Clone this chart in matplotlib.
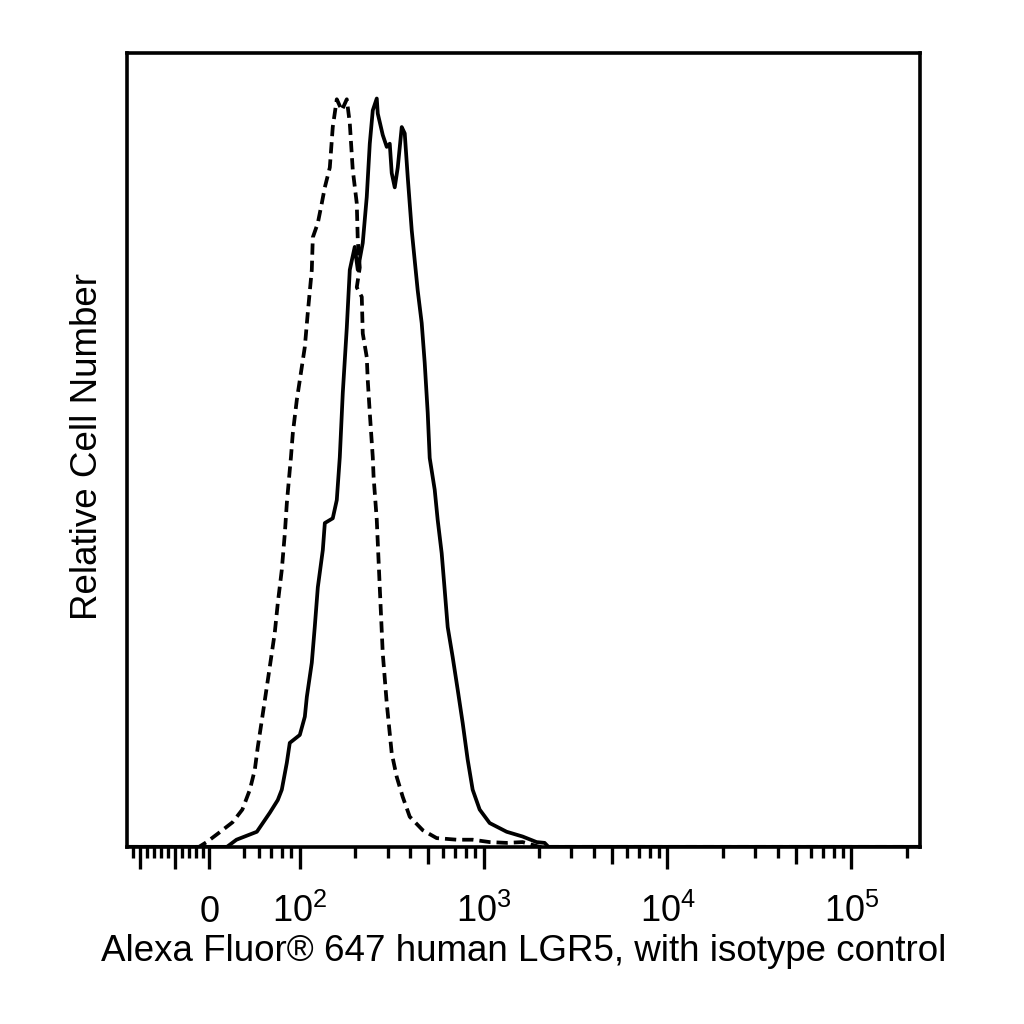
import numpy as np
import matplotlib
matplotlib.use("Agg")
import matplotlib.pyplot as plt

plt.rcParams['font.family'] = ['Liberation Sans', 'DejaVu Sans']
plt.rcParams['mathtext.default'] = 'regular'

# isotype control (dashed): intensity, relative count
iso_x = [-118, -15, -4, 14, 33, 47, 53.5, 56.9, 59.1, 62.2, 66.2, 70.4, 73.1, 75.9, 79.8,
         82.9, 85.0, 88.2, 89.5, 91.6, 96.3, 100, 106.5, 110.5, 116.2, 117.7, 125.3, 131.7,
         136.8, 145.6, 151.1, 158.9, 169.2, 180.1, 187.0, 194.1, 204.1, 206.7, 211.9, 204.1,
         217.3, 220.0, 231.3, 234.2, 240.2, 249.4, 252, 262.2, 272.2, 282.6, 297.1, 316.2,
         336.8, 362.9, 396.2, 466.2, 555.3, 713.5, 871.4, 1078, 1334, 1629, 2015, 2.35e5]
iso_y = [0, 0, 0.6, 1.8, 3.1, 4.7, 7.2, 9.7, 12.6, 16.0, 20.2, 24.4, 27.0, 30.7, 34.9,
         39.5, 43.3, 47.5, 49.1, 52.1, 56.3, 58.8, 63.0, 67.3, 72.7, 76.8, 78.6, 81.1,
         83.1, 85.6, 90.7, 94.2, 92.8, 94.2, 91.2, 85.3, 81.1, 76.4, 73.0, 70.5,
         69.3, 64.7, 61.7, 58.8, 54.7, 49.1, 46.6, 41.2, 32.7, 24.4, 18.1, 11.8,
         8.8, 6.3, 3.8, 2.1, 1.1, 0.9, 0.9, 0.6, 0.5, 0.6, 0, 0]

# LGR5 stained (solid)
lgr5_x = [-118, 25, 38.6, 58.4, 68.7, 75.9, 79.8, 85.0, 88.2, 100, 106.5, 109.2, 116.2,
          120.6, 125.3, 133.4, 136.8, 151.1, 158.9, 165.0, 171.3, 180.1, 187.0, 199.0,
          206.7, 220.0, 231.3, 240.2, 249.4, 262.2, 265.5, 282.6, 297.1, 308.5, 316.2,
          328.4, 341.0, 358.5, 372.2, 386.4, 406.2, 421.7, 437.9, 460.3, 477.9, 496.3,
          508.8, 541.7, 562.3, 591.2, 613.8, 637.4, 678.6, 722.5, 769.1, 818.5, 871.4,
          951.2, 1078, 1334, 1629, 1941, 2146, 2250, 2.35e5]
lgr5_y = [0, 0, 0.9, 1.9, 4.3, 5.9, 7.2, 10.6, 13.1, 14.1, 16.4, 18.9, 23.2,
          27.7, 32.7, 37.4, 40.8, 41.4, 43.7, 49.1, 57.2, 65.4, 72.7, 75.6,
          72.7, 76.1, 81.9, 88.6, 92.8, 94.3, 92.4, 89.7, 88.2, 88.6, 84.9,
          83.1, 85.6, 90.7, 89.9, 84.4, 77.7, 73.9, 70.1, 66.0, 61.0, 54.7,
          49.0, 45.0, 41.2, 37.0, 32.4, 27.7, 23.9, 19.8, 15.6, 11.0, 7.2,
          4.7, 3.0, 1.9, 1.3, 0.6, 0.5, 0, 0]

major_ticks = [0, 1e2, 1e3, 1e4, 1e5]
major_labels = ['0', '$10^2$', '$10^3$', '$10^4$', '$10^5$']
long_ticks = [-100, -50]
mid_ticks = [5e2, 5e3, 5e4]
short_ticks = [-110, -90, -80, -70, -60, -40, -30, -20, -10,
               50, 60, 70, 80, 90,
               200, 300, 400, 600, 700, 800, 900,
               2e3, 3e3, 4e3, 6e3, 7e3, 8e3, 9e3,
               2e4, 3e4, 4e4, 6e4, 7e4, 8e4, 9e4, 2e5]

# linear below T, log above (decade units)
T = 50.0
K = 0.1902 / T


def fwd(x):
    x = np.asarray(x, dtype=float)
    with np.errstate(divide='ignore', invalid='ignore'):
        return np.where(x < T, x * K, T * K + np.log10(np.maximum(x, T) / T))


def inv(y):
    y = np.asarray(y, dtype=float)
    return np.where(y < T * K, y / K, T * 10 ** (np.minimum(y, 20) - T * K))


fig = plt.figure(figsize=(10.24, 10.24), dpi=100)
ax = fig.add_axes([0.124, 0.173, 0.774, 0.775])
ax.set_xscale('function', functions=(fwd, inv))
ax.plot(iso_x, iso_y, color='black', lw=2.7, ls=(0, (3.0, 1.6)))
ax.plot(lgr5_x, lgr5_y, color='black', lw=2.7)
ax.set_xlim(-118, 2.35e5)
ax.set_ylim(0, 100)
ax.set_yticks([])

ax.set_xticks(major_ticks, major_labels)
ax.set_xticks(short_ticks, minor=True)
ax.tick_params(axis='x', which='major', length=16, width=2.4, direction='out',
               pad=38, labelsize=26)
ax.tick_params(axis='x', which='minor', length=8, width=2.4, direction='out')
plt.setp(ax.get_xticklabels(), va='baseline')
for s in ax.spines.values():
    s.set_linewidth(2.6)

ax2 = ax.twiny()
ax2.set_xscale('function', functions=(fwd, inv))
ax2.set_xlim(ax.get_xlim())
ax2.xaxis.set_ticks_position('bottom')
ax2.set_xticks(long_ticks)
ax2.set_xticks(mid_ticks, minor=True)
ax2.tick_params(axis='x', which='major', length=16, width=2.4, direction='out',
                labelbottom=False, labeltop=False)
ax2.tick_params(axis='x', which='minor', length=12, width=2.4, direction='out',
                labelbottom=False, labeltop=False)
for s in ax2.spines.values():
    s.set_visible(False)

ax.set_xlabel('Alexa Fluor® 647 human LGR5, with isotype control', fontsize=26.5)
ax.xaxis.set_label_coords(0.5, -0.11)
ax.set_ylabel('Relative Cell Number', fontsize=26.5)
ax.yaxis.set_label_coords(-0.028, 0.504)

fig.savefig('out.png', dpi=100, facecolor='white')
